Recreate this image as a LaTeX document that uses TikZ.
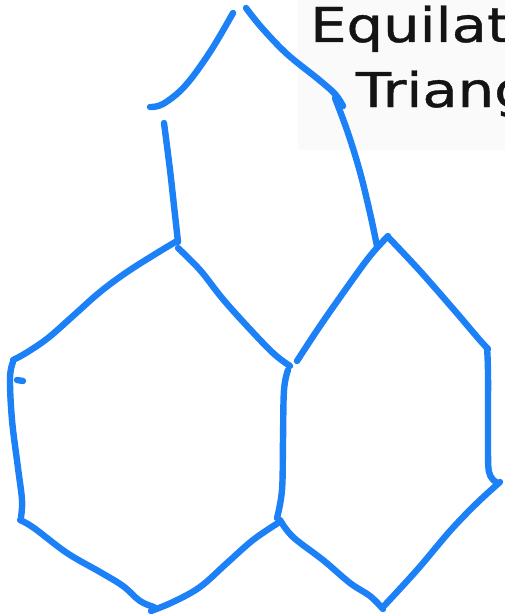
\documentclass[tikz,border=0pt]{standalone}
\usepackage{fontspec}
\setmainfont{DejaVu Sans}
\newfontfamily\labelfont[FakeBold=0.8]{DejaVu Sans}
\definecolor{pen}{RGB}{28,128,246}
\definecolor{ink}{RGB}{20,20,20}
\tikzset{
  penline/.style={draw=pen, line width=6.4pt, line cap=round, line join=round},
  label/.style={text=ink, font=\labelfont\fontsize{48}{58}\selectfont, inner sep=0pt}
}
\begin{document}
\begin{tikzpicture}[x=1pt,y=-1pt]
\useasboundingbox (0,0) rectangle (505,615);
\clip (0,0) rectangle (505,615);
\fill[black!2] (298,0) rectangle (505,150);
% text
\node[label, anchor=base] (t1) at (465,42) {\scalebox{1.2}[1]{Equilateral}};
\node[label, anchor=base] (t2) at (469,107) {\scalebox{1.2}[1]{Triangle}};
% top shape
\draw[penline] plot[smooth, tension=0.6] coordinates {(150,107) (163,104) (185,86) (210,52) (233,13)};
\draw[penline] plot[smooth, tension=0.6] coordinates {(246,8) (262,28) (287,54) (318,79) (335,94) (343,106)};
\draw[penline] plot[smooth, tension=0.6] coordinates {(335,98) (348,133) (360,172) (370,213) (377,246)};
\draw[penline] plot[smooth, tension=0.6] coordinates {(164,123) (170,170) (175,215) (178,242)};
% left shape
\draw[penline] plot[smooth, tension=0.6] coordinates {(177,241) (157,253) (127,272) (100,292) (73,316) (48,338) (26,353) (13,360)};
\draw[penline] plot[smooth, tension=0.6] coordinates {(178,248) (200,270) (222,298) (247,326) (273,353) (290,366)};
\draw[penline] plot[smooth, tension=0.6] coordinates {(13,362) (10,378) (12,420) (18,468) (22,500) (21,517)};
\draw[penline] (17,380) -- (23,381);
\draw[penline] plot[smooth, tension=0.6] coordinates {(20,520) (34,528) (67,553) (100,572) (123,586) (140,601) (154,607)};
\draw[penline] plot[smooth, tension=0.6] coordinates {(151,611) (173,602) (200,587) (227,563) (253,540) (278,523)};
% middle / right shape
\draw[penline] plot[smooth, tension=0.6] coordinates {(297,361) (320,326) (348,286) (370,256) (388,236)};
\draw[penline] plot[smooth, tension=0.6] coordinates {(389,238) (420,271) (455,311) (478,338) (488,349)};
\draw[penline] plot[smooth, tension=0.6] coordinates {(288,370) (284,390) (283,440) (282,490) (277,518)};
\draw[penline] plot[smooth, tension=0.6] coordinates {(280,520) (293,537) (323,560) (350,583) (370,596) (383,609)};
\draw[penline] plot[smooth, tension=0.6] coordinates {(383,607) (417,570) (450,531) (477,503) (500,482)};
\draw[penline] plot[smooth, tension=0.6] coordinates {(487,348) (488,373) (488,440) (489,472) (496,482)};
\end{tikzpicture}
\end{document}
